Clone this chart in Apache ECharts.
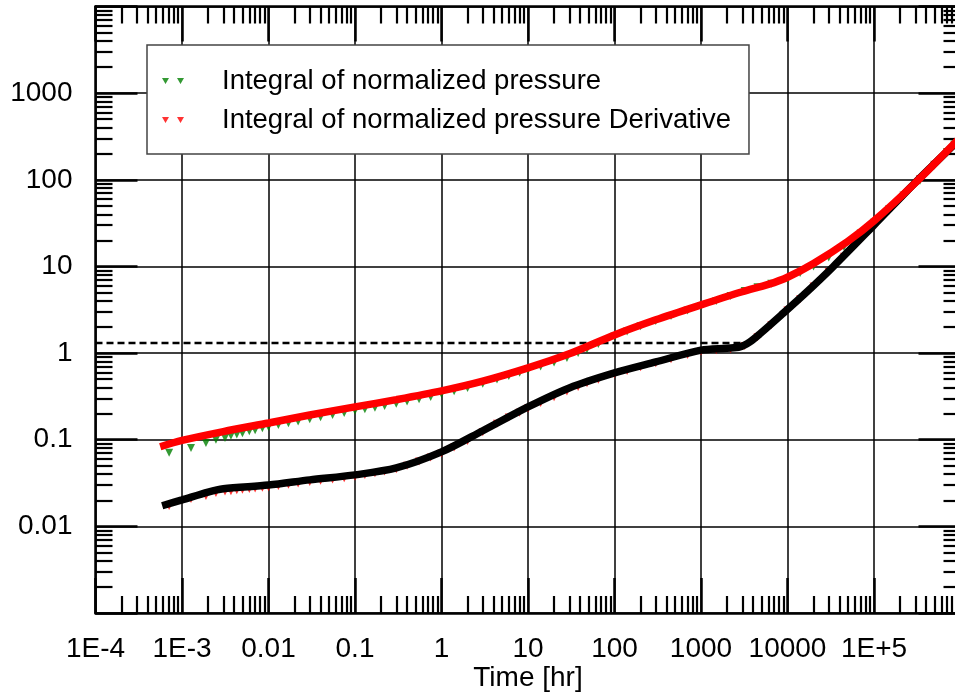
<!DOCTYPE html>
<html>
<head>
<meta charset="utf-8">
<script src="https://cdn.jsdelivr.net/npm/echarts@6/dist/echarts.min.js"></script>
<style>
html,body{margin:0;padding:0;background:#fff;}
#chart{width:955px;height:693px;}
</style>
</head>
<body>
<div id="chart"></div>
<script>
// ---------- data ----------
const xTickLabels = ['1E-4','1E-3','0.01','0.1','1','10','100','1000','10000','1E+5',''];
const yTickLabels = ['','0.01','0.1','1','10','100','1000',''];
const minorFactors = [2,3,4,5,6,7,8,9];

const dataTime = [7.1e-4,1.27e-3,1.89e-3,2.47e-3,3.14e-3,3.68e-3,4.3e-3,5e-3,6e-3,7e-3,8.5e-3,0.01,0.013,0.017,0.022,0.03,0.04,0.055,0.075,0.1,0.13,0.17,0.22,0.3,0.4,0.55,0.75,1,1.4,2,3,4.38,6,8,10,14,20,28.2,38,48.1,65,100,140,200,300,450,700,1000,1500,2200,3200,4500,6500,1e4,1.4e4,2e4,3e4,4.5e4,7e4,1e5,1.5e5,2.2e5,3.4e5,5e5,7e5,8.5e5];
const pressureData = [0.0705,0.0803,0.0918,0.0996,0.105,0.111,0.115,0.119,0.125,0.129,0.1355,0.1406,0.1476,0.155,0.1626,0.172,0.1816,0.1928,0.204,0.2153,0.2244,0.2345,0.245,0.2606,0.2754,0.293,0.312,0.338,0.363,0.394,0.4416,0.4955,0.5445,0.594,0.637,0.70,0.78,0.88,1.0,1.11,1.27,1.55,1.77,2.04,2.35,2.68,3.09,3.47,3.98,4.55,5.19,5.75,6.31,7.11,8.41,10.0,12.7,16.8,24.0,32,45.9,65.3,97.7,146,209,255];
const derivData = [0.0172,0.0207,0.0224,0.0243,0.0252,0.0255,0.0261,0.0265,0.0269,0.0274,0.0279,0.0283,0.0292,0.0302,0.0312,0.0324,0.0335,0.0348,0.036,0.0373,0.0392,0.0411,0.043,0.0455,0.0499,0.056,0.0624,0.0692,0.0813,0.0964,0.122,0.153,0.18,0.205,0.229,0.266,0.31,0.361,0.406,0.447,0.493,0.568,0.622,0.684,0.762,0.847,0.948,1.04,1.076,1.11,1.21,1.52,2.1,3.09,4.19,5.85,8.61,12.9,20.3,29.2,44.3,65.5,102,149,207,249];

const modelPTime = [5.6e-4,1e-3,3e-3,0.01,0.03,0.1,0.3,1,3,10,30,100,300,1000,3000,6000,1e4,2e4,5e4,1e5,3e5,1e6];
const modelPressure = [0.083,0.098,0.124,0.156,0.193,0.239,0.29,0.366,0.474,0.675,0.98,1.62,2.42,3.6,5.1,6.2,7.5,10.8,19.5,33.5,92,310];

const modelDTime = [5.9e-4,1e-3,2e-3,3e-3,0.01,0.03,0.1,0.3,1,3,10,30,100,300,1000,2000,2825,3680,4810,8950,1.68e4,3.36e4,1e5,3.14e5,1e6];
const modelDeriv = [0.0173,0.0202,0.0249,0.0272,0.030,0.0344,0.0393,0.0472,0.0723,0.127,0.239,0.396,0.59,0.79,1.08,1.14,1.18,1.35,1.67,2.89,5.1,9.9,30,97,300];

const refTime = [1e-4, 4200];
const refLevel = [1.31, 1.31];

// ---------- build ----------
const zip = (a, b) => a.map((v, i) => [v, b[i]]);
function minorTicks(lo, hi) {
  const out = [];
  for (let d = lo; d < hi; d++) minorFactors.forEach(k => out.push(d + Math.log10(k)));
  return out;
}
const FONT = "'Liberation Sans', Arial, sans-serif";
const black = '#000';

function majorAxis(pos, min, max, len, labels, withLabels, withSplit) {
  return {
    type: 'value', position: pos, min: min, max: max, interval: 1,
    axisLine: { show: true, onZero: false, lineStyle: { color: black, width: 2.5 } },
    axisTick: { show: true, inside: true, length: len, lineStyle: { color: black, width: 2.5 } },
    splitLine: { show: withSplit, lineStyle: { color: black, width: 1.5 } },
    axisLabel: withLabels ? {
      show: true, fontSize: 28, color: black, fontFamily: FONT, hideOverlap: false,
      showMinLabel: true, showMaxLabel: true,
      margin: pos === 'left' ? 23 : 22,
      formatter: v => labels[Math.round(v) - min] || ''
    } : { show: false }
  };
}
function minorAxis(pos, min, max) {
  return {
    type: 'value', position: pos, min: min, max: max, interval: 1,
    axisLine: { show: false, onZero: false },
    axisTick: { show: true, inside: true, length: 17, customValues: minorTicks(min, max),
                lineStyle: { color: black, width: 2.2 } },
    splitLine: { show: false },
    axisLabel: { show: false }
  };
}

const xBottom = majorAxis('bottom', -4, 6, 35, xTickLabels, true, true);
xBottom.name = 'Time [hr]';
xBottom.nameLocation = 'middle';
xBottom.nameGap = 51;
xBottom.nameMoveOverlap = false;
xBottom.nameTextStyle = { fontSize: 28, color: black, fontFamily: FONT };

const option = {
  animation: false,
  backgroundColor: '#fff',
  textStyle: { fontFamily: FONT },
  grid: { left: 95.5, top: 6.5, width: 865, height: 606.5, containLabel: false, outerBoundsMode: 'none' },
  xAxis: [
    { type: 'log', logBase: 10, min: 1e-4, max: 1e6, show: false },
    xBottom,
    majorAxis('top', -4, 6, 35, xTickLabels, false, false),
    minorAxis('bottom', -4, 6),
    minorAxis('top', -4, 6)
  ],
  yAxis: [
    { type: 'log', logBase: 10, min: 1e-3, max: 1e4, show: false },
    majorAxis('left', -3, 4, 42, yTickLabels, true, true),
    majorAxis('right', -3, 4, 42, yTickLabels, false, false),
    minorAxis('left', -3, 4),
    minorAxis('right', -3, 4)
  ],
  legend: {
    orient: 'vertical', left: 147, top: 45,
    data: ['Integral of normalized pressure', 'Integral of normalized pressure Derivative'],
    icon: 'path://M0,0L7,0L3.5,6ZM15,0L22,0L18.5,6Z',
    itemWidth: 22, itemHeight: 6, itemGap: 11,
    backgroundColor: '#fff', borderColor: '#444', borderWidth: 1.5,
    padding: [22, 18, 20, 15],
    itemStyle: { borderWidth: 0 },
    textStyle: { fontSize: 27.5, color: black, fontFamily: FONT, padding: [0, 0, 0, 33] }
  },
  series: [
    { type: 'line', name: 'ref', data: zip(refTime, refLevel), xAxisIndex: 0, yAxisIndex: 0,
      showSymbol: false, symbol: 'none', lineStyle: { color: black, width: 2.5, type: [7, 4] }, silent: true },
    { type: 'scatter', name: 'Integral of normalized pressure', data: zip(dataTime, pressureData),
      xAxisIndex: 0, yAxisIndex: 0, symbol: 'triangle', symbolRotate: 180, symbolSize: 8,
      itemStyle: { color: '#008000' } },
    { type: 'scatter', name: 'Integral of normalized pressure Derivative', data: zip(dataTime, derivData),
      xAxisIndex: 0, yAxisIndex: 0, symbol: 'triangle', symbolRotate: 180, symbolSize: 8,
      itemStyle: { color: '#ff0000' } },
    { type: 'line', name: 'model derivative', data: zip(modelDTime, modelDeriv), xAxisIndex: 0, yAxisIndex: 0,
      symbol: 'none', smooth: 0.3, lineStyle: { color: black, width: 7.5 } },
    { type: 'line', name: 'model pressure', data: zip(modelPTime, modelPressure), xAxisIndex: 0, yAxisIndex: 0,
      symbol: 'none', smooth: 0.3, lineStyle: { color: '#ff0000', width: 7.5 } }
  ]
};

const chart = echarts.init(document.getElementById('chart'), null, { renderer: 'canvas' });
chart.setOption(option);
</script>
</body>
</html>
